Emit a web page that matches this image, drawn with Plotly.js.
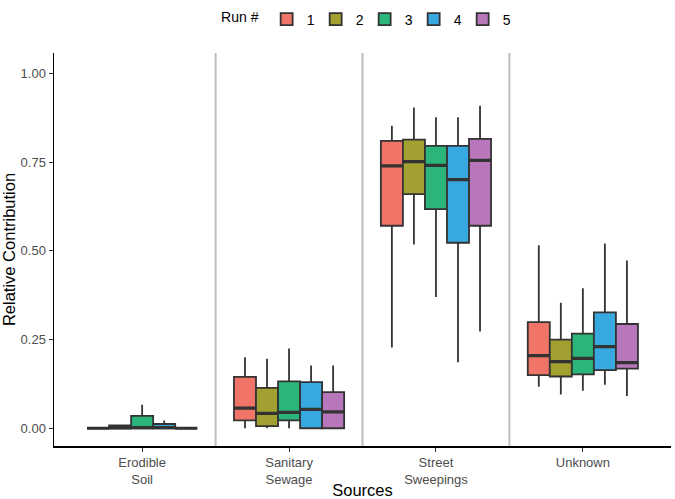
<!DOCTYPE html>
<html>
<head>
<meta charset="utf-8">
<script src="https://cdn.plot.ly/plotly-3.0.1.min.js"></script>
<style>html,body{margin:0;padding:0;background:#fff;}#chart{width:675px;height:499px;}</style>
</head>
<body>
<div id="chart"></div>
<script>
const categories = ["Erodible<br>Soil", "Sanitary<br>Sewage", "Street<br>Sweepings", "Unknown"];
const runs = ["1", "2", "3", "4", "5"];
const colors = ["#F07468", "#A3A032", "#2BB57A", "#38A9E0", "#B777BA"];

// per run: [Erodible, Sanitary, Street, Unknown]
const lowerWhisker = [
  [0.000, 0.000, 0.228, 0.117],
  [0.000, 0.000, 0.518, 0.095],
  [0.000, 0.000, 0.370, 0.106],
  [0.000, 0.000, 0.186, 0.123],
  [0.000, 0.000, 0.273, 0.091]
];
const q1 = [
  [0.000, 0.022, 0.571, 0.150],
  [0.000, 0.006, 0.660, 0.146],
  [0.000, 0.022, 0.618, 0.152],
  [0.000, 0.000, 0.523, 0.164],
  [0.000, 0.000, 0.571, 0.168]
];
const medians = [
  [0.000, 0.057, 0.740, 0.205],
  [0.001, 0.042, 0.752, 0.188],
  [0.002, 0.045, 0.741, 0.197],
  [0.002, 0.053, 0.701, 0.230],
  [0.000, 0.046, 0.755, 0.185]
];
const q3 = [
  [0.000, 0.145, 0.810, 0.299],
  [0.008, 0.114, 0.814, 0.250],
  [0.035, 0.132, 0.796, 0.267],
  [0.012, 0.130, 0.796, 0.327],
  [0.000, 0.102, 0.816, 0.294]
];
const upperWhisker = [
  [0.000, 0.200, 0.853, 0.516],
  [0.010, 0.196, 0.904, 0.354],
  [0.066, 0.225, 0.877, 0.395],
  [0.022, 0.177, 0.877, 0.521],
  [0.000, 0.177, 0.909, 0.473]
];
const yTicks = [0, 0.25, 0.5, 0.75, 1.0];

const boxTraces = runs.map((r, i) => ({
  type: "box",
  name: r,
  x: categories,
  q1: q1[i],
  median: medians[i],
  q3: q3[i],
  lowerfence: lowerWhisker[i],
  upperfence: upperWhisker[i],
  offsetgroup: "g" + r,
  fillcolor: colors[i],
  line: {color: "#333333", width: 1.8},
  whiskerwidth: 0,
  boxpoints: false,
  hoverinfo: "skip"
}));

// thicker median bars (ggplot style), drawn as flat boxes at the median
const medianTraces = runs.map((r, i) => ({
  type: "box",
  name: r,
  x: categories,
  q1: medians[i],
  median: medians[i],
  q3: medians[i],
  lowerfence: medians[i],
  upperfence: medians[i],
  offsetgroup: "g" + r,
  fillcolor: "rgba(0,0,0,0)",
  line: {color: "#333333", width: 3.2},
  whiskerwidth: 0,
  boxpoints: false,
  showlegend: false,
  hoverinfo: "skip"
}));

const seps = [0.5, 1.5, 2.5].map(v => ({
  type: "line", xref: "x", yref: "paper", x0: v, x1: v, y0: 0, y1: 1,
  line: {color: "#BEBEBE", width: 2}, layer: "below"
}));

const layout = {
  width: 675, height: 499,
  margin: {l: 54, r: 4, t: 46, b: 53},
  paper_bgcolor: "#fff", plot_bgcolor: "#fff",
  font: {family: "Liberation Sans, Arial, sans-serif", color: "#000"},
  boxmode: "group",
  boxgap: 0.25,
  boxgroupgap: 0,
  showlegend: true,
  legend: {
    orientation: "h", x: 0.505, xanchor: "center", y: 1.085, yanchor: "middle",
    title: {text: "Run #", side: "left", font: {size: 14, color: "#000"}},
    font: {size: 14, color: "#000"},
    itemwidth: 30,
    entrywidth: 4,
    entrywidthmode: "pixels"
  },
  xaxis: {
    type: "category",
    range: [-0.6, 3.6],
    showline: true, linecolor: "#000", linewidth: 1.5,
    ticks: "outside", ticklen: 4, tickcolor: "#333", tickwidth: 1,
    tickfont: {size: 13, color: "#4D4D4D"},
    showgrid: false, zeroline: false,
    title: {text: "Sources", font: {size: 16.5, color: "#000"}, standoff: 2}
  },
  yaxis: {
    range: [-0.05, 1.058],
    tickvals: yTicks,
    tickformat: ".2f",
    showline: true, linecolor: "#000", linewidth: 1.5,
    ticks: "outside", ticklen: 4, tickcolor: "#333", tickwidth: 1,
    tickfont: {size: 13, color: "#4D4D4D"},
    showgrid: false, zeroline: false,
    title: {text: "Relative Contribution", font: {size: 16.5, color: "#000"}, standoff: 4}
  },
  shapes: seps
};

Plotly.newPlot("chart", boxTraces.concat(medianTraces), layout, {displayModeBar: false, staticPlot: true});
</script>
</body>
</html>
